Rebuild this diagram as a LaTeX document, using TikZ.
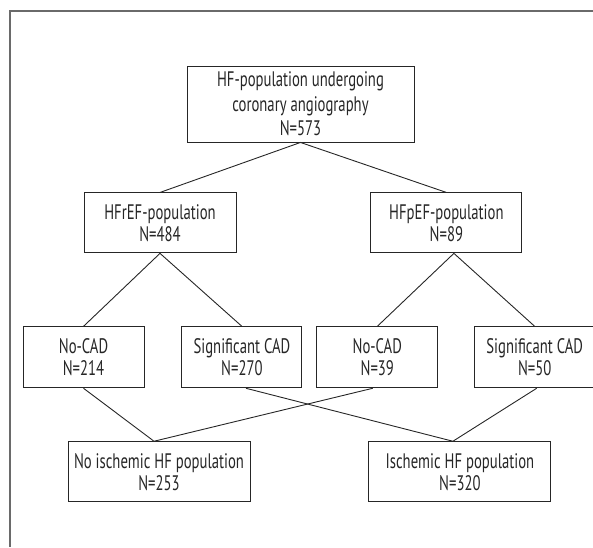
\documentclass[tikz,border=0pt]{standalone}
\usepackage{fontspec}
\setmainfont{PT Sans}[FakeStretch=0.70]
\usepackage{xcolor}
\usepackage{tikz}
\usetikzlibrary{positioning}
\definecolor{inkgray}{HTML}{262626}
\definecolor{framegray}{HTML}{6A6A6A}
\tikzstyle{popbox} = [rectangle, draw=inkgray, line width=0.9pt, align=center, text=inkgray, inner sep=2pt, minimum height=60pt, font=\fontsize{21}{22}\selectfont]
\tikzstyle{link} = [draw=inkgray, line width=0.9pt]

\begin{document}
\begin{tikzpicture}[x=1pt, y=1pt]
\useasboundingbox (0,0) rectangle (593,547);

% open frame: top and left edges only
\coordinate (frametl) at (10,536);
\coordinate (frametr) at (593,536);
\coordinate (framebl) at (10,0);
\draw[framegray, line width=1.1pt] (frametr) -- (frametl) -- (framebl);

% first row
\node[popbox, minimum width=227pt, minimum height=76pt, font=\fontsize{21}{24.5}\selectfont] (total) at (300.5,443) {HF-population undergoing\\coronary angiography\\N=573};

% second row
\node[popbox, minimum width=152pt, below=50pt of total, xshift=-140.5pt] (hfref) {HFrEF-population\\N=484};
\node[popbox, minimum width=151pt, right=134pt of hfref] (hfpef) {HFpEF-population\\N=89};

% third row
\node[popbox, minimum width=121pt, minimum height=61pt, below=73pt of hfref, xshift=-76.5pt] (nocadr) {No-CAD\\N=214};
\node[popbox, minimum width=120pt, minimum height=61pt, right=37pt of nocadr] (sigcadr) {Significant CAD\\N=270};
\node[popbox, minimum width=121pt, minimum height=61pt, right=14pt of sigcadr] (nocadp) {No-CAD\\N=39};
\node[popbox, minimum width=120pt, minimum height=61pt, right=36pt of nocadp] (sigcadp) {Significant CAD\\N=50};

% fourth row
\node[popbox, minimum width=182pt, below=53pt of nocadr, xshift=75.5pt] (noisch) {No ischemic HF population\\N=253};
\node[popbox, minimum width=182pt, right=118pt of noisch] (isch) {Ischemic HF population\\N=320};

% split lines
\draw[link] (hfref.north) -- (total.south) -- (hfpef.north);
\draw[link] (nocadr.north) -- (hfref.south) -- (sigcadr.north);
\draw[link] (nocadp.north) -- ([xshift=7.5pt]hfpef.south) -- (sigcadp.north);

% merge lines
\draw[link] (nocadr.south) -- ([xshift=-5pt]noisch.north) -- ([xshift=-4.5pt]nocadp.south);
\draw[link] ([xshift=4pt]sigcadr.south) -- ([xshift=-7pt]isch.north) -- ([xshift=2pt]sigcadp.south);

\end{tikzpicture}
\end{document}
